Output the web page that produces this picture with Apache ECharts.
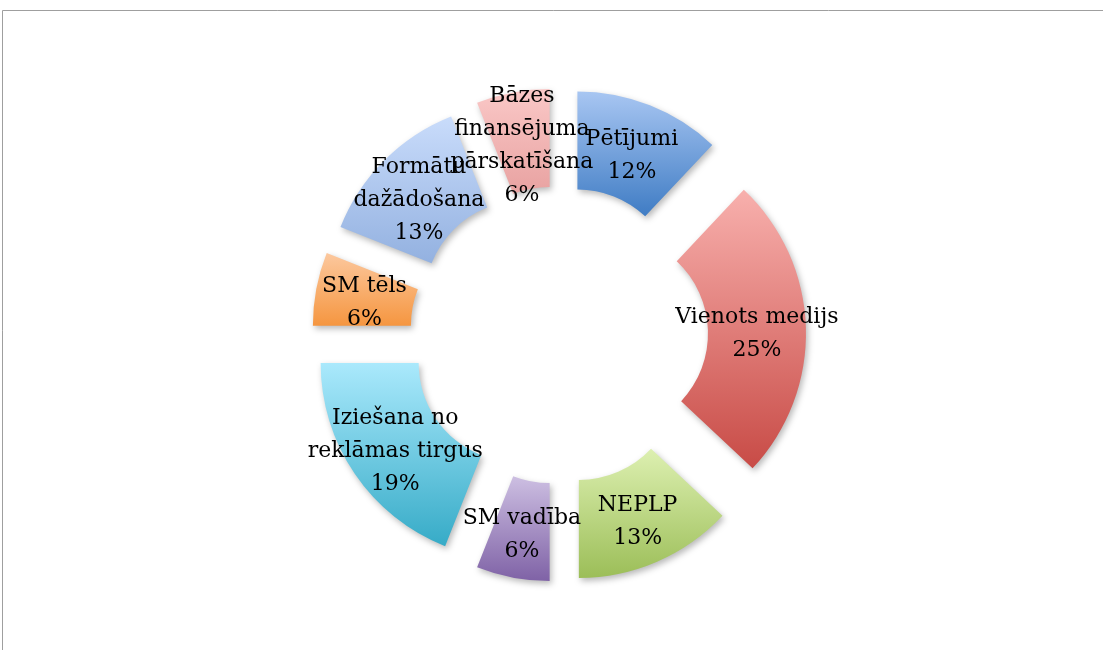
<!DOCTYPE html>
<html>
<head>
<meta charset="utf-8">
<script src="https://cdn.jsdelivr.net/npm/echarts@6/dist/echarts.min.js"></script>
<style>
  html, body { margin: 0; padding: 0; background: #fff; }
  #chart { width: 1103px; height: 650px; }
</style>
</head>
<body>
<div id="chart"></div>
<script>
// segment names, clockwise from 12 o'clock
const categories = [
  'Pētījumi',
  'Vienots medijs',
  'NEPLP',
  'SM vadība',
  'Iziešana no reklāmas tirgus',
  'SM tēls',
  'Formātu dažādošana',
  'Bāzes finansējuma pārskatīšana'
];
// label text as wrapped in the picture
const labelNames = [
  'Pētījumi',
  'Vienots medijs',
  'NEPLP',
  'SM vadība',
  'Iziešana no\nreklāmas tirgus',
  'SM tēls',
  'Formātu\ndažādošana',
  'Bāzes\nfinansējuma\npārskatīšana'
];
const values = [12, 25, 13, 6, 19, 6, 13, 6];
// gradient top / bottom colours
const topColors = ['#a8c6f2', '#f8b0ad', '#ddf0b1', '#cdbfe2', '#aae9fc', '#fcc89e', '#c9dcfb', '#fac8c7'];
const bottomColors = ['#3f7cc4', '#c84b46', '#9cbe58', '#7f62a6', '#36abc7', '#f59640', '#93b1e0', '#e8a2a1'];

const chart = echarts.init(document.getElementById('chart'));

const data = categories.map((name, i) => ({
  name: name,
  value: values[i],
  selected: true,
  itemStyle: {
    color: new echarts.graphic.LinearGradient(0, 0, 0, 1, [
      { offset: 0, color: topColors[i] },
      { offset: 1, color: bottomColors[i] }
    ])
  }
}));

chart.setOption({
  animation: false,
  series: [{
    type: 'pie',
    center: [559, 335],
    radius: [99, 197],
    startAngle: 90,
    clockwise: true,
    selectedMode: 'multiple',
    selectedOffset: 50,
    avoidLabelOverlap: false,
    emphasis: { scale: false },
    itemStyle: {
      shadowBlur: 6,
      shadowOffsetX: 2,
      shadowOffsetY: 3,
      shadowColor: 'rgba(0,0,0,0.28)'
    },
    label: { show: false },
    labelLine: { show: false },
    data: data
  }]
});

// pie hides the labels of the thin slices, so place them as text
// at the middle of each (exploded) slice, read from the pie's own layout
const seriesModel = chart.getModel().getSeriesByIndex(0);
const pieData = seriesModel.getData();
const offset = seriesModel.get('selectedOffset');
const labels = [];
pieData.each(i => {
  const lay = pieData.getItemLayout(i);
  const mid = (lay.startAngle + lay.endAngle) / 2;
  const dx = Math.cos(mid), dy = Math.sin(mid);
  const rm = (lay.r + lay.r0) / 2 + offset;
  const pct = seriesModel.getDataParams(i).percent;
  labels.push({
    type: 'text',
    silent: true,
    z: 100,
    x: lay.cx + dx * rm,
    y: lay.cy + dy * rm + 5,
    style: {
      text: labelNames[i] + '\n' + pct.toFixed(0) + '%',
      fill: '#000',
      font: '22px "DejaVu Serif"',
      lineHeight: 33,
      align: 'center',
      verticalAlign: 'middle'
    }
  });
});

chart.setOption({
  graphic: [{
    type: 'rect',
    silent: true,
    shape: { x: 2.5, y: 10.5, width: 1300, height: 900 },
    style: { fill: 'none', stroke: '#9f9f9f', lineWidth: 1 }
  }].concat(labels)
});
</script>
</body>
</html>
